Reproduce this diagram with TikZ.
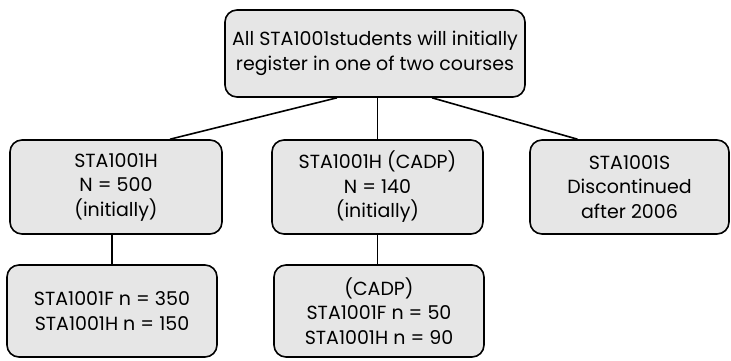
\documentclass[tikz,border=0pt]{standalone}
\usepackage{fontspec}
\setmainfont{Poppins}
\usepackage{tikz}
\usetikzlibrary{positioning}
\definecolor{BoxFill}{RGB}{230,230,230}

\begin{document}
\begin{tikzpicture}[x=1pt,y=1pt,
  course/.style={draw=black, fill=BoxFill, line width=1.6pt, rounded corners=12pt,
    align=center, inner sep=0pt, font=\fontsize{19}{24.5}\selectfont},
  link/.style={draw=black, line width=1.6pt}]
  \path[use as bounding box] (0,0) rectangle (731,360);
  \node[course, minimum width=300, minimum height=87] (all) at (375,306.5)
    {All STA1001students will initially\\register in one of two courses};
  \node[course, minimum width=212, minimum height=94] (h) at (116,173)
    {STA1001H\\N = 500\\(initially)};
  \node[course, minimum width=211, minimum height=94] (cadp) at (377.5,173)
    {STA1001H (CADP)\\N = 140\\(initially)};
  \node[course, minimum width=199, minimum height=94] (s) at (629.5,173)
    {STA1001S\\Discontinued\\after 2006};
  \node[course, minimum width=210, minimum height=92] (hsplit) at (112,49)
    {STA1001F n = 350\\STA1001H n = 150};
  \node[course, minimum width=210, minimum height=92] (cadpsplit) at (379,49)
    {(CADP)\\STA1001F n = 50\\STA1001H n = 90};
  \draw[link] ([xshift=-38]all.south) -- ([xshift=54]h.north);
  \draw[link] (all.south -| cadp.north) -- (cadp.north);
  \draw[link] ([xshift=57]all.south) -- ([xshift=-52]s.north);
  \draw[link] (h.south -| hsplit.north) -- (hsplit.north);
  \draw[link] (cadp.south) -- (cadp.south |- cadpsplit.north);
\end{tikzpicture}
\end{document}
